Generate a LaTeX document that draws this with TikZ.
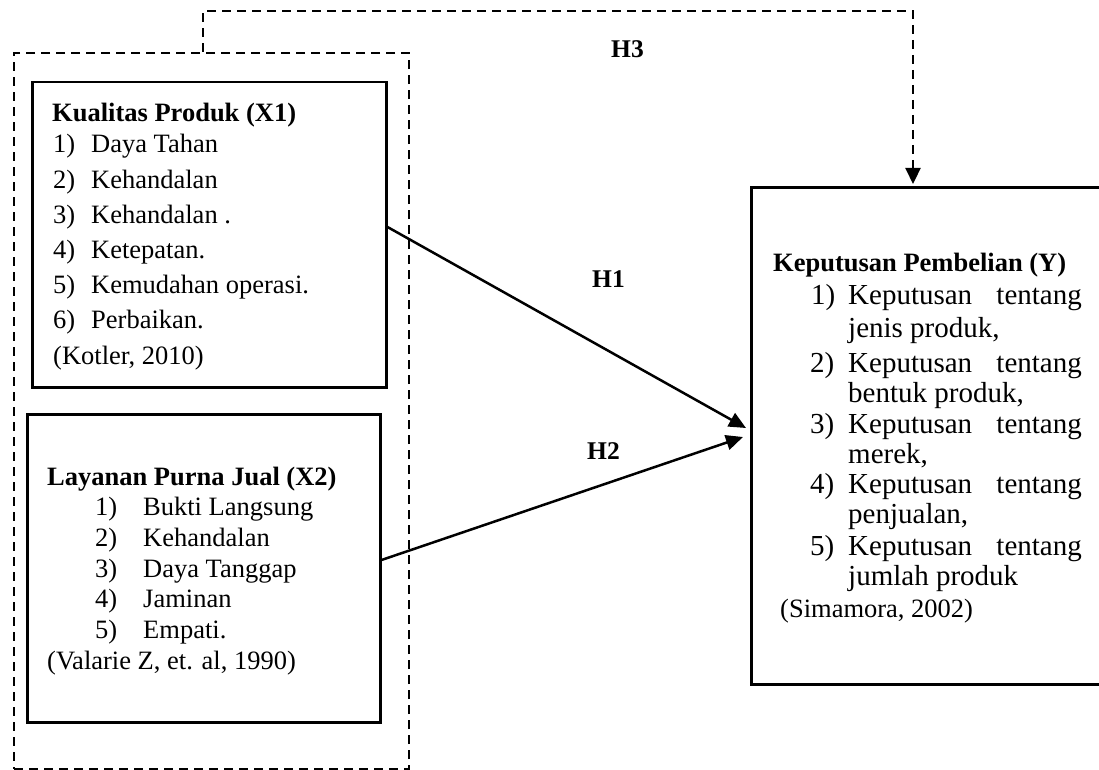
\documentclass[tikz,border=0pt]{standalone}
\usepackage{fontspec}
\setmainfont{Liberation Serif}
\usetikzlibrary{arrows.meta}
\tikzset{
  box/.style={draw, line width=2.5pt, rectangle, anchor=north west, inner sep=0pt},
  dbox/.style={draw, line width=2.2pt, dash pattern=on 9pt off 6pt, rectangle, anchor=north west, inner sep=0pt},
  txt/.style={anchor=base west, inner sep=0pt, font=\fontsize{26.5}{32}\selectfont},
  txtr/.style={anchor=base east, inner sep=0pt, font=\fontsize{29}{34}\selectfont},
  ytxt/.style={anchor=base west, inner sep=0pt, font=\fontsize{29}{34}\selectfont},
  btxt/.style={anchor=base west, inner sep=0pt, font=\fontsize{26.5}{32}\selectfont\bfseries},
  htxt/.style={anchor=base west, inner sep=0pt, font=\fontsize{25.5}{30}\selectfont\bfseries},
  arr/.style={line width=2.5pt, -{Triangle[length=17pt,width=15pt]}},
  darr/.style={line width=2.2pt, dash pattern=on 9pt off 6pt, -{Triangle[length=16pt,width=15pt]}}
}
\begin{document}
\begin{tikzpicture}[x=1pt,y=-1pt]
\useasboundingbox (0,0) rectangle (1099,770);
% boxes
\node[dbox, minimum width=395pt, minimum height=716pt] (outer) at (13,52) {};
\node[box, minimum width=354pt, minimum height=305pt] (x1) at (31,81) {};
\node[box, minimum width=353pt, minimum height=308pt] (x2) at (26,413) {};
\node[box, minimum width=360pt, minimum height=497pt] (y) at (750,186) {};
% X1 text
\node[btxt] (x1t) at (52,122) {Kualitas Produk (X1)};
\node[txt] (x1n1) at (53,153) {1)}; \node[txt] (x1i1) at (91,153) {Daya Tahan};
\node[txt] (x1n2) at (53,188) {2)}; \node[txt] (x1i2) at (91,188) {Kehandalan};
\node[txt] (x1n3) at (53,223) {3)}; \node[txt] (x1i3) at (91,223) {Kehandalan .};
\node[txt] (x1n4) at (53,258) {4)}; \node[txt] (x1i4) at (91,258) {Ketepatan.};
\node[txt] (x1n5) at (53,293) {5)}; \node[txt] (x1i5) at (91,293) {Kemudahan operasi.};
\node[txt] (x1n6) at (53,328) {6)}; \node[txt] (x1i6) at (91,328) {Perbaikan.};
\node[txt] (x1c) at (53,364) {(Kotler, 2010)};
% X2 text
\node[btxt] (x2t) at (47,485) {Layanan Purna Jual (X2)};
\node[txt] (x2n1) at (95,515) {1)}; \node[txt] (x2i1) at (143,515) {Bukti Langsung};
\node[txt] (x2n2) at (95,546) {2)}; \node[txt] (x2i2) at (143,546) {Kehandalan};
\node[txt] (x2n3) at (95,577) {3)}; \node[txt] (x2i3) at (143,577) {Daya Tanggap};
\node[txt] (x2n4) at (95,607) {4)}; \node[txt] (x2i4) at (143,607) {Jaminan};
\node[txt] (x2n5) at (95,638) {5)}; \node[txt] (x2i5) at (143,638) {Empati.};
\node[txt] (x2c) at (47,669) {(Valarie Z, et. al, 1990)};
% Y text
\node[btxt] (yt) at (773,271) {Keputusan Pembelian (Y)};
\node[ytxt] (yn1) at (811,304) {1)}; \node[ytxt] (yi1a) at (848,304) {Keputusan}; \node[txtr] (yi1b) at (1082,304) {tentang};
\node[ytxt] (yi1c) at (848,337) {jenis produk,};
\node[ytxt] (yn2) at (810,372) {2)}; \node[ytxt] (yi2a) at (848,372) {Keputusan}; \node[txtr] (yi2b) at (1082,372) {tentang};
\node[ytxt] (yi2c) at (848,402) {bentuk produk,};
\node[ytxt] (yn3) at (810,433) {3)}; \node[ytxt] (yi3a) at (848,433) {Keputusan}; \node[txtr] (yi3b) at (1082,433) {tentang};
\node[ytxt] (yi3c) at (848,463) {merek,};
\node[ytxt] (yn4) at (810,493) {4)}; \node[ytxt] (yi4a) at (848,493) {Keputusan}; \node[txtr] (yi4b) at (1082,493) {tentang};
\node[ytxt] (yi4c) at (848,523) {penjualan,};
\node[ytxt] (yn5) at (810,555) {5)}; \node[ytxt] (yi5a) at (848,555) {Keputusan}; \node[txtr] (yi5b) at (1082,555) {tentang};
\node[ytxt] (yi5c) at (848,585) {jumlah produk};
\node[txt] (yc) at (780,617) {(Simamora, 2002)};
% hypothesis labels
\node[htxt] (h1) at (592,287) {H1};
\node[htxt] (h2) at (587,459) {H2};
\node[htxt] (h3) at (611,58) {H3};
% connectors
\draw[arr] ([yshift=-146pt]x1.north east) -- ([xshift=-4pt,yshift=-242pt]y.north west);
\draw[arr] ([yshift=-147pt]x2.north east) -- ([xshift=-7pt,yshift=-251pt]y.north west);
\draw[darr] ([xshift=190pt]outer.north west) -- ++(0,-41) -| ([xshift=163pt,yshift=2pt]y.north west);
\end{tikzpicture}
\end{document}
